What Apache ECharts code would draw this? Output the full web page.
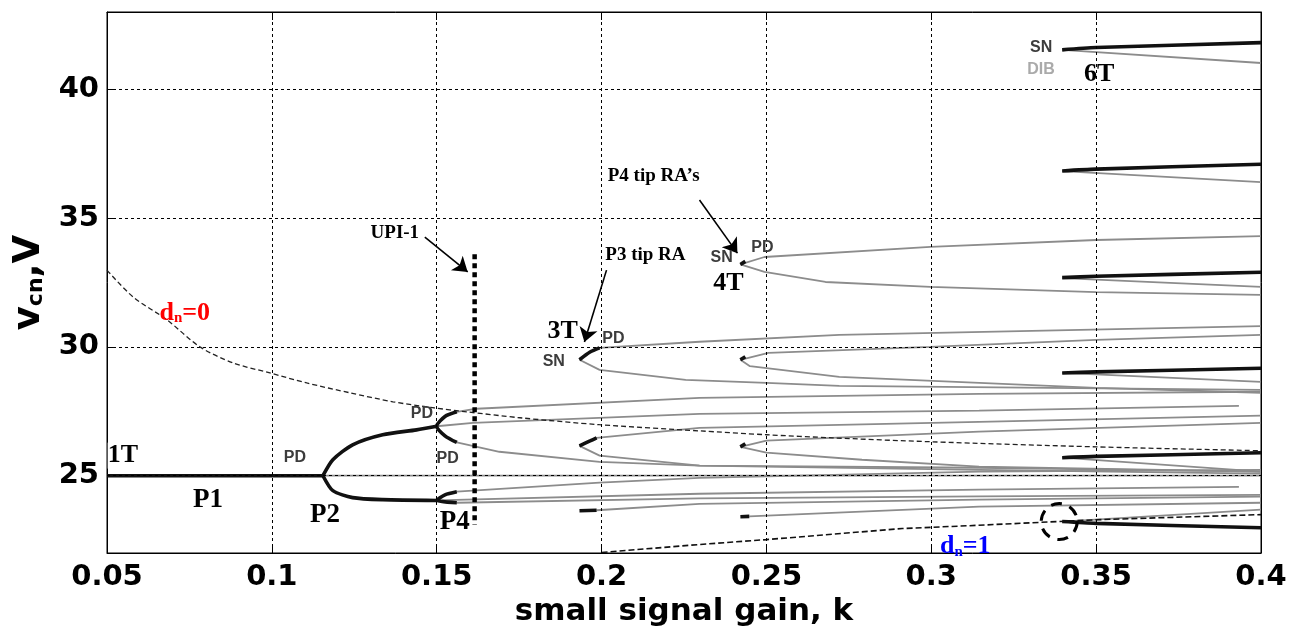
<!DOCTYPE html>
<html><head><meta charset="utf-8">
<script src="https://cdn.jsdelivr.net/npm/echarts@6/dist/echarts.min.js"></script>
<style>html,body{margin:0;padding:0;background:#fff}#c{width:1294px;height:626px}</style>
</head><body><div id="c"></div>
<script>
// ---------- axis ticks ----------
const xTicks = [0.05, 0.1, 0.15, 0.2, 0.25, 0.3, 0.35, 0.4];
const yTicks = [25, 30, 35, 40];

// ---------- stable (black) branches ----------
const P1_stable = [[0.05,25],[0.1155,25]];
const P2_upper = [[0.1155,25],[0.1185,25.62],[0.1245,26.2],[0.1336,26.59],[0.1439,26.78],[0.15,26.92]];
const P2_lower = [[0.1155,25],[0.1185,24.42],[0.1245,24.15],[0.1336,24.07],[0.15,24.04]];
const P4_stable_hi = [[0.1561,27.48],[0.1525,27.3],[0.15,26.92],[0.1525,26.55],[0.1561,26.29]];
const P4_stable_lo = [[0.1561,24.38],[0.1525,24.26],[0.15,24.04],[0.1561,23.95]];
const T3_stable_top = [[0.1933,29.5],[0.1965,29.8],[0.1994,29.96]];
const T3_stable_mid = [[0.1933,26.16],[0.1965,26.35],[0.1985,26.47]];
const T3_stable_bot = [[0.1933,23.64],[0.1985,23.66]];
const T4_stable_1 = [[0.2421,33.2],[0.2436,33.32]];
const T4_stable_2 = [[0.2421,29.5],[0.2436,29.62]];
const T4_stable_3 = [[0.2421,26.12],[0.2436,26.24]];
const T4_stable_4 = [[0.2421,23.41],[0.2448,23.42]];
const T6_stable_1 = [[0.3397,41.53],[0.35,41.62],[0.4,41.81]];
const T6_stable_2 = [[0.3397,36.83],[0.35,36.9],[0.4,37.09]];
const T6_stable_3 = [[0.3397,32.69],[0.35,32.74],[0.4,32.9]];
const T6_stable_4 = [[0.3397,28.99],[0.35,29.03],[0.4,29.17]];
const T6_stable_5 = [[0.3397,25.70],[0.35,25.75],[0.4,25.89]];
const T6_stable_6 = [[0.3397,23.22],[0.35,23.15],[0.4,22.98]];

// ---------- unstable (grey) branches ----------
const P1_unstable = [[0.1155,25],[0.4,25]];
const P2_unstable_up = [[0.15,26.92],[0.161,27.05],[0.2297,27.4],[0.3145,27.53],[0.3933,27.71]];
const P2_unstable_lo = [[0.15,24.04],[0.2297,24.3],[0.3145,24.46],[0.3933,24.57]];
const P4_unstable_1 = [[0.1561,27.48],[0.1621,27.6],[0.2297,28.02],[0.3145,28.18],[0.4,28.26]];
const P4_unstable_2 = [[0.1561,26.29],[0.169,25.93],[0.1994,25.54],[0.2297,25.39],[0.3145,25.23],[0.4,25.08]];
const P4_unstable_3 = [[0.1561,24.38],[0.1994,24.73],[0.2297,24.92],[0.3145,25.16],[0.4,25.23]];
const P4_unstable_4 = [[0.1561,23.95],[0.2297,24.12],[0.3145,24.2],[0.4,24.26]];
const T3_loop_top = [[0.4,30.81],[0.2721,30.47],[0.2297,30.2],[0.1994,29.96],[0.1965,29.8],[0.1933,29.5],[0.1994,29.11],[0.2255,28.72],[0.25,28.6],[0.2721,28.49],[0.4,28.33]];
const T3_loop_mid = [[0.4,27.33],[0.3145,27.09],[0.2297,26.86],[0.1985,26.47],[0.1933,26.16],[0.1994,25.78],[0.2297,25.39],[0.3145,25.31],[0.4,25.16]];
const T3_bottom = [[0.1985,23.66],[0.2297,23.91],[0.3145,24.07],[0.4,24.19]];
const T4_loop_1 = [[0.4,34.3],[0.35,34.15],[0.2997,33.88],[0.2494,33.49],[0.2421,33.2],[0.2494,32.91],[0.2679,32.52],[0.2997,32.33],[0.35,32.13],[0.4,32.02]];
const T4_loop_2 = [[0.4,30.47],[0.35,30.27],[0.2997,30.0],[0.2506,29.77],[0.2421,29.5],[0.245,29.25],[0.2721,28.84],[0.35,28.41],[0.4,28.22]];
const T4_loop_3 = [[0.4,27.05],[0.3145,26.71],[0.25,26.36],[0.2421,26.12],[0.25,25.9],[0.279,25.62],[0.3145,25.35],[0.4,25.16]];
const T4_bottom = [[0.2448,23.42],[0.3145,23.8],[0.4,23.95]];
const T6_unstable_1 = [[0.3397,41.53],[0.4,41.02]];
const T6_unstable_2 = [[0.3397,36.82],[0.4,36.4]];
const T6_unstable_3 = [[0.3397,32.67],[0.4,32.33]];
const T6_unstable_4 = [[0.3397,28.99],[0.4,28.64]];
const T6_unstable_5 = [[0.3397,25.70],[0.4,25.16]];
const T6_unstable_6 = [[0.3397,23.22],[0.4,23.68]];

// ---------- boundaries ----------
const dn0_curve = [[0.05,32.98],[0.0579,31.94],[0.0682,31.05],[0.0782,30.0],[0.0882,29.38],[0.0994,28.99],[0.1106,28.6],[0.1236,28.22],[0.1367,27.87],[0.1488,27.64],[0.1591,27.48],[0.1752,27.25],[0.1994,26.98],[0.2297,26.74],[0.25,26.59],[0.27,26.47],[0.2994,26.32],[0.35,26.12],[0.4,25.97]];
const dn1_curve = [[0.2,22.02],[0.2297,22.33],[0.25,22.52],[0.2912,22.95],[0.3115,23.06],[0.35,23.29],[0.4,23.49]];
const UPI1_line = [[0.1615,33.6],[0.1615,23.1]];
const DIB_circle = [[0.3388,23.22]];

// ---------- annotations ----------
const arrows = [
  [[0.1464,34.26],[0.1594,32.91]],
  [[0.2015,32.98],[0.1948,30.19]],
  [[0.2297,35.7],[0.2412,33.64]]
];
const serifLabels = [
  ['1T',0.0548,25.78,26],['P1',0.0806,24.07,27],['P2',0.1161,23.49,27],['P4',0.1555,23.22,27],
  ['3T',0.1882,30.62,26],['4T',0.2385,32.48,26],['6T',0.3509,40.58,26],
  ['UPI-1',0.1373,34.42,19],['P3 tip RA',0.2133,33.57,19],['P4 tip RA\u2019s',0.2158,36.63,19]
];
const smallLabels = [
  ['PD',0.107,25.70],['PD',0.1455,27.4],['PD',0.1533,25.66],['SN',0.1855,29.42],['PD',0.2036,30.31],
  ['SN',0.2364,33.45],['PD',0.2488,33.84],['SN',0.3333,41.63]
];
const greyLabels = [['DIB',0.3333,40.78]];
const dnLabels = [['0',0.0736,31.32,'#ff0000'],['1',0.3103,22.25,'#0000ff']];

// ---------- build ----------
const GREY = {color:'#8c8c8c', width:1.8};
const BLACK = {color:'#111', width:3.6};
const series = [];
function line(data, style, z, extra){
  series.push(Object.assign({type:'line', data:data, showSymbol:false, symbol:'none', lineStyle:style, silent:true, z:z, smooth:false}, extra||{}));
}
// grid lines
series.push({type:'line', data:[], z:1, silent:true,
  markLine:{silent:true, symbol:'none', label:{show:false}, animation:false,
    lineStyle:{color:'#000', width:1, type:[3,3]},
    data: yTicks.map(v=>({yAxis:v})).concat(xTicks.slice(1,-1).map(v=>({xAxis:v})))}});

[P1_unstable,P2_unstable_up,P2_unstable_lo,P4_unstable_1,P4_unstable_2,P4_unstable_3,P4_unstable_4,
 T3_loop_top,T3_loop_mid,T3_bottom,T4_loop_1,T4_loop_2,T4_loop_3,T4_bottom,
 T6_unstable_1,T6_unstable_2,T6_unstable_3,T6_unstable_4,T6_unstable_5,T6_unstable_6].forEach(d=>line(d,GREY,2));
line(dn0_curve,{color:'#222', width:1.3, type:[5,3]},3,{smooth:0.3});
line(dn1_curve,{color:'#111', width:1.6, type:[6,3]},3);
[P1_stable,P2_upper,P2_lower,P4_stable_hi,P4_stable_lo,T3_stable_top,T3_stable_mid,T3_stable_bot,
 T4_stable_1,T4_stable_2,T4_stable_3,T4_stable_4,
 T6_stable_1,T6_stable_2,T6_stable_3,T6_stable_4,T6_stable_5,T6_stable_6].forEach(d=>line(d,BLACK,4,{smooth:0.25}));
line(UPI1_line,{color:'#000', width:4.5, type:[5,4]},5);

series.push({type:'scatter', data:DIB_circle, symbol:'circle', symbolSize:36, silent:true, z:5,
  itemStyle:{color:'rgba(0,0,0,0)', opacity:1, borderColor:'#000', borderWidth:3, borderType:[11,8]}});

series.push({type:'lines', coordinateSystem:'cartesian2d', z:6, silent:true,
  symbol:['none','arrow'], symbolSize:14,
  lineStyle:{color:'#000', width:1.6, opacity:1},
  data: arrows.map(a=>({coords:a}))});

function textItem(value, label){ return {value:value, label:Object.assign({show:true, position:'inside', align:'center', verticalAlign:'middle', opacity:1}, label)}; }
const textData = [];
serifLabels.forEach(s=>textData.push(textItem([s[1],s[2]],{formatter:s[0], fontFamily:'Liberation Serif', fontWeight:'bold', fontSize:s[3], color:'#000',
  backgroundColor: s[0]==='1T' ? '#fff' : 'transparent'})));
smallLabels.forEach(s=>textData.push(textItem([s[1],s[2]],{formatter:s[0], fontFamily:'Liberation Sans', fontWeight:'bold', fontSize:16, color:'#3c3c3c'})));
greyLabels.forEach(s=>textData.push(textItem([s[1],s[2]],{formatter:s[0], fontFamily:'Liberation Sans', fontWeight:'bold', fontSize:16, color:'#aaaaaa'})));
dnLabels.forEach(s=>textData.push(textItem([s[1],s[2]],{formatter:'{a|d}{b|n}{a|=' + s[0] + '}',
  rich:{a:{fontFamily:'Liberation Serif', fontWeight:'bold', fontSize:26, color:s[3], lineHeight:26},
        b:{fontFamily:'Liberation Serif', fontWeight:'bold', fontSize:15, color:s[3], lineHeight:6, verticalAlign:'bottom'}}})));
series.push({type:'scatter', data:textData, symbolSize:1, itemStyle:{color:'rgba(0,0,0,0)', opacity:1}, silent:true, z:7});

const axisFont = {fontFamily:'DejaVu Sans', fontWeight:'bold', fontSize:29, color:'#000'};
const chart = echarts.init(document.getElementById('c'), null, {renderer:'canvas'});
chart.setOption({
  animation:false,
  backgroundColor:'#fff',
  grid:{left:107, right:33, top:12, bottom:73, outerBoundsMode:'none', containLabel:false,
        show:true, borderColor:'#000', borderWidth:1, backgroundColor:'transparent'},
  xAxis:[{type:'value', min:0.05, max:0.4, interval:0.05, position:'bottom',
    axisLine:{show:true, onZero:false, lineStyle:{color:'#000', width:1}},
    axisTick:{show:true, inside:true, length:8, lineStyle:{color:'#000'}},
    splitLine:{show:false},
    axisLabel:Object.assign({margin:10, formatter:v=>String(+v.toFixed(2))}, axisFont),
    name:'small signal gain, k', nameLocation:'middle', nameGap:43,
    nameTextStyle:{fontFamily:'DejaVu Sans', fontWeight:'bold', fontSize:31, color:'#000'}},
   {type:'value', min:0.05, max:0.4, interval:0.05, position:'top',
    axisLine:{show:true, onZero:false, lineStyle:{color:'#000'}},
    axisTick:{show:true, inside:true, length:8, lineStyle:{color:'#000'}},
    axisLabel:{show:false}, splitLine:{show:false}}],
  yAxis:[{type:'value', min:22, max:43, position:'left',
    axisLine:{show:true, onZero:false, lineStyle:{color:'#000', width:1}},
    axisTick:{show:true, inside:true, length:8, customValues:yTicks, lineStyle:{color:'#000'}},
    splitLine:{show:false},
    axisLabel:Object.assign({margin:8, customValues:yTicks}, axisFont),
    name:'{v|v}{s|cn}{v|,V}', nameLocation:'middle', nameGap:58, nameRotate:90,
    nameTextStyle:{rich:{v:{fontFamily:'DejaVu Sans', fontWeight:'bold', fontSize:37, color:'#000', lineHeight:36},
                         s:{fontFamily:'DejaVu Sans', fontWeight:'bold', fontSize:22, color:'#000', lineHeight:10, verticalAlign:'bottom'}}}},
   {type:'value', min:22, max:43, position:'right',
    axisLine:{show:true, onZero:false, lineStyle:{color:'#000'}},
    axisTick:{show:true, inside:true, length:8, customValues:yTicks, lineStyle:{color:'#000'}},
    axisLabel:{show:false}, splitLine:{show:false}}],
  series: series
});
</script></body></html>
